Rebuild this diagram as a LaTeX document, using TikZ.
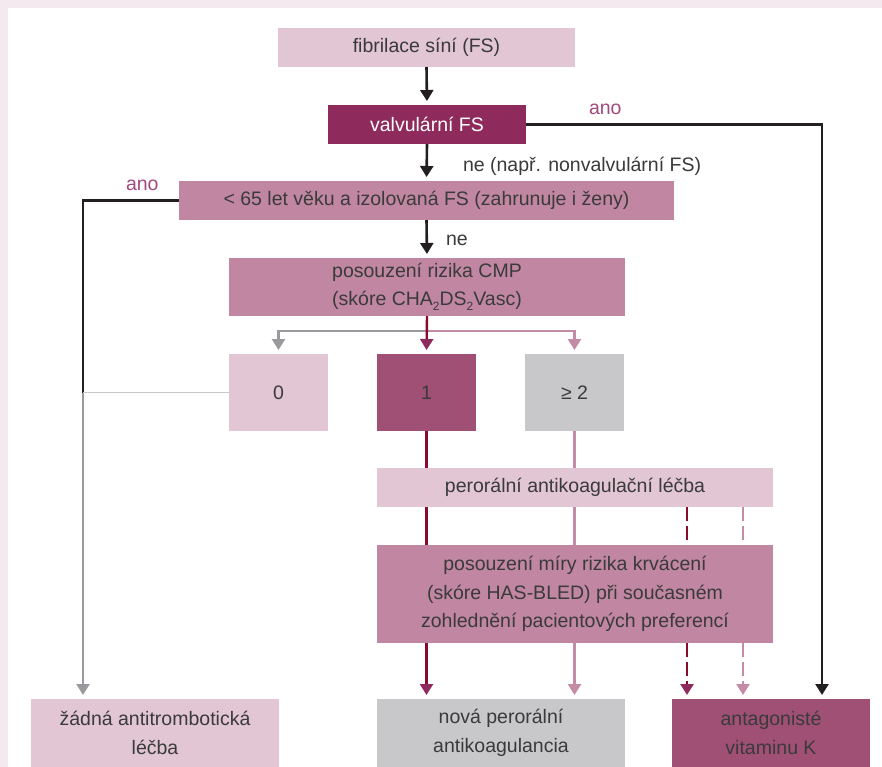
\documentclass[tikz,border=0pt]{standalone}
\usepackage{fontspec}
\setmainfont{Liberation Sans}
\usetikzlibrary{arrows.meta}
\definecolor{bgpink}{HTML}{F4E9EE}
\definecolor{lpink}{HTML}{E2C6D4}
\definecolor{dplum}{HTML}{8E2A5C}
\definecolor{mpink}{HTML}{C187A2}
\definecolor{plum}{HTML}{A05075}
\definecolor{gbox}{HTML}{C8C8CA}
\definecolor{txt}{HTML}{3A3A3A}
\definecolor{lred}{HTML}{8A0A2C}
\definecolor{lpk}{HTML}{C48BA6}
\definecolor{lgr}{HTML}{9A9A9E}
\definecolor{llgr}{HTML}{C8C8C8}
\definecolor{blk}{HTML}{231F20}
\definecolor{anocol}{HTML}{A3487D}
\begin{document}
\begin{tikzpicture}[x=1pt,y=-1pt,
  bx/.style={inner sep=0pt, outer sep=0pt, align=center, text=txt, font=\fontsize{19.5}{28.5}\selectfont},
  lbl/.style={inner sep=0pt, outer sep=0pt, font=\fontsize{19.5}{24}\selectfont},
  tipc/.style={-{Triangle[width=13pt,length=11pt,color=#1]}, shorten >=4pt},
  lnblack/.style={draw=blk, line width=2.6pt},
  lnred/.style={draw=lred, line width=2.4pt},
  lnpink/.style={draw=lpk, line width=2.4pt},
  lngray/.style={draw=lgr, line width=2.4pt},
  lnlgray/.style={draw=llgr, line width=1.7pt},
  dsh/.style={dash pattern=on 14pt off 5pt}
]
\useasboundingbox (0,0) rectangle (882,767);
\fill[bgpink] (0,0) rectangle (882,767);
\fill[white] (8,8) rectangle (882,767);

% boxes
\node[bx, fill=lpink, minimum width=297pt, minimum height=39pt] (fib) at (426.5,47.5) {fibrilace síní (FS)};
\node[bx, fill=dplum, text=white, minimum width=198pt, minimum height=39pt] (valv) at (427,124.5) {valvulární FS};
\node[bx, fill=mpink, minimum width=495pt, minimum height=39pt] (age) at (426.5,200.5) {< 65 let věku a izolovaná FS (zahrunuje i ženy)};
\node[bx, fill=mpink, minimum width=396pt, minimum height=58pt] (cmp) at (427,287) {posouzení rizika CMP\\(skóre CHA\raisebox{-5pt}{\fontsize{12}{12}\selectfont 2}DS\raisebox{-5pt}{\fontsize{12}{12}\selectfont 2}Vasc)};
\node[bx, fill=lpink, minimum width=99pt, minimum height=77pt] (z0) at (278.5,392.5) {0};
\node[bx, fill=plum, minimum width=99pt, minimum height=77pt] (z1) at (426.5,392.5) {1};
\node[bx, fill=gbox, minimum width=99pt, minimum height=77pt] (z2) at (574.5,392.5) {≥ 2};
\node[bx, fill=lpink, minimum width=396pt, minimum height=39pt] (poral) at (575,487.5) {perorální antikoagulační léčba};
\node[bx, fill=mpink, minimum width=396pt, minimum height=98pt] (bleed) at (575,594) {posouzení míry rizika krvácení\\(skóre HAS-BLED) při současném\\zohlednění pacientových preferencí};
\node[bx, fill=gbox, minimum width=248pt, minimum height=68pt] (noac) at (501,733) {nová perorální\\antikoagulancia};
\node[bx, fill=plum, minimum width=198pt, minimum height=68pt] (vka) at (771,733) {antagonisté\\vitaminu K};
\node[bx, fill=lpink, minimum width=248pt, minimum height=68pt] (none) at (155,733) {žádná antitrombotická\\léčba};

% labels
\node[lbl, text=txt, anchor=base west] (lblne1) at (463,172) {ne (např. nonvalvulární FS)};
\node[lbl, text=txt, anchor=base west] (lblne2) at (446,245) {ne};
\node[lbl, text=anocol, anchor=base west] (lblano1) at (589,115) {ano};
\node[lbl, text=anocol, anchor=base west] (lblano2) at (126,191) {ano};

% helper coordinates
\coordinate (rcorner) at (822,124.5);
\coordinate (lcorner) at (83,200.5);
\coordinate (split) at (427,331);
\coordinate (dx1) at (687,507);
\coordinate (dx2) at (743,507);

% main vertical chain
\draw[lnblack, tipc=blk] (fib.south) -- (valv.north);
\draw[lnblack, tipc=blk] (valv.south) -- (age.north);
\draw[lnblack, tipc=blk] (age.south) -- (cmp.north);

% valvular yes
\draw[lnblack, tipc=blk] (valv.east) -- (rcorner) -- (rcorner |- vka.north);

% age yes
\draw[lnblack] (age.west) -- (lcorner) -- (lcorner |- z0.west);
\draw[lngray, tipc=lgr] (lcorner |- z0.west) -- (lcorner |- none.north);
\draw[lnlgray] (z0.west) -- (lcorner |- z0.west);

% CMP branches
\draw[lngray, tipc=lgr] (split) -| (z0.north);
\draw[lnpink, tipc=lpk] (split) -| (z2.north);
\draw[lnred, tipc=dplum] (cmp.south) -- (z1.north);

% score 1 path
\draw[lnred] (z1.south) -- (z1.south |- poral.north);
\draw[lnred] (z1.south |- poral.south) -- (z1.south |- bleed.north);
\draw[lnred, tipc=dplum] (z1.south |- bleed.south) -- (z1.south |- noac.north);

% score >=2 path
\draw[lnpink] (z2.south) -- (z2.south |- poral.north);
\draw[lnpink] (z2.south |- poral.south) -- (z2.south |- bleed.north);
\draw[lnpink, tipc=lpk] (z2.south |- bleed.south) -- (z2.south |- noac.north);

% dashed to VKA
\draw[lnred, dsh] (dx1 |- poral.south) -- (dx1 |- bleed.north);
\draw[lnred, dsh, tipc=dplum] (dx1 |- bleed.south) -- (dx1 |- vka.north);
\draw[lnpink, dsh] (dx2 |- poral.south) -- (dx2 |- bleed.north);
\draw[lnpink, dsh, tipc=lpk] (dx2 |- bleed.south) -- (dx2 |- vka.north);
\end{tikzpicture}
\end{document}
